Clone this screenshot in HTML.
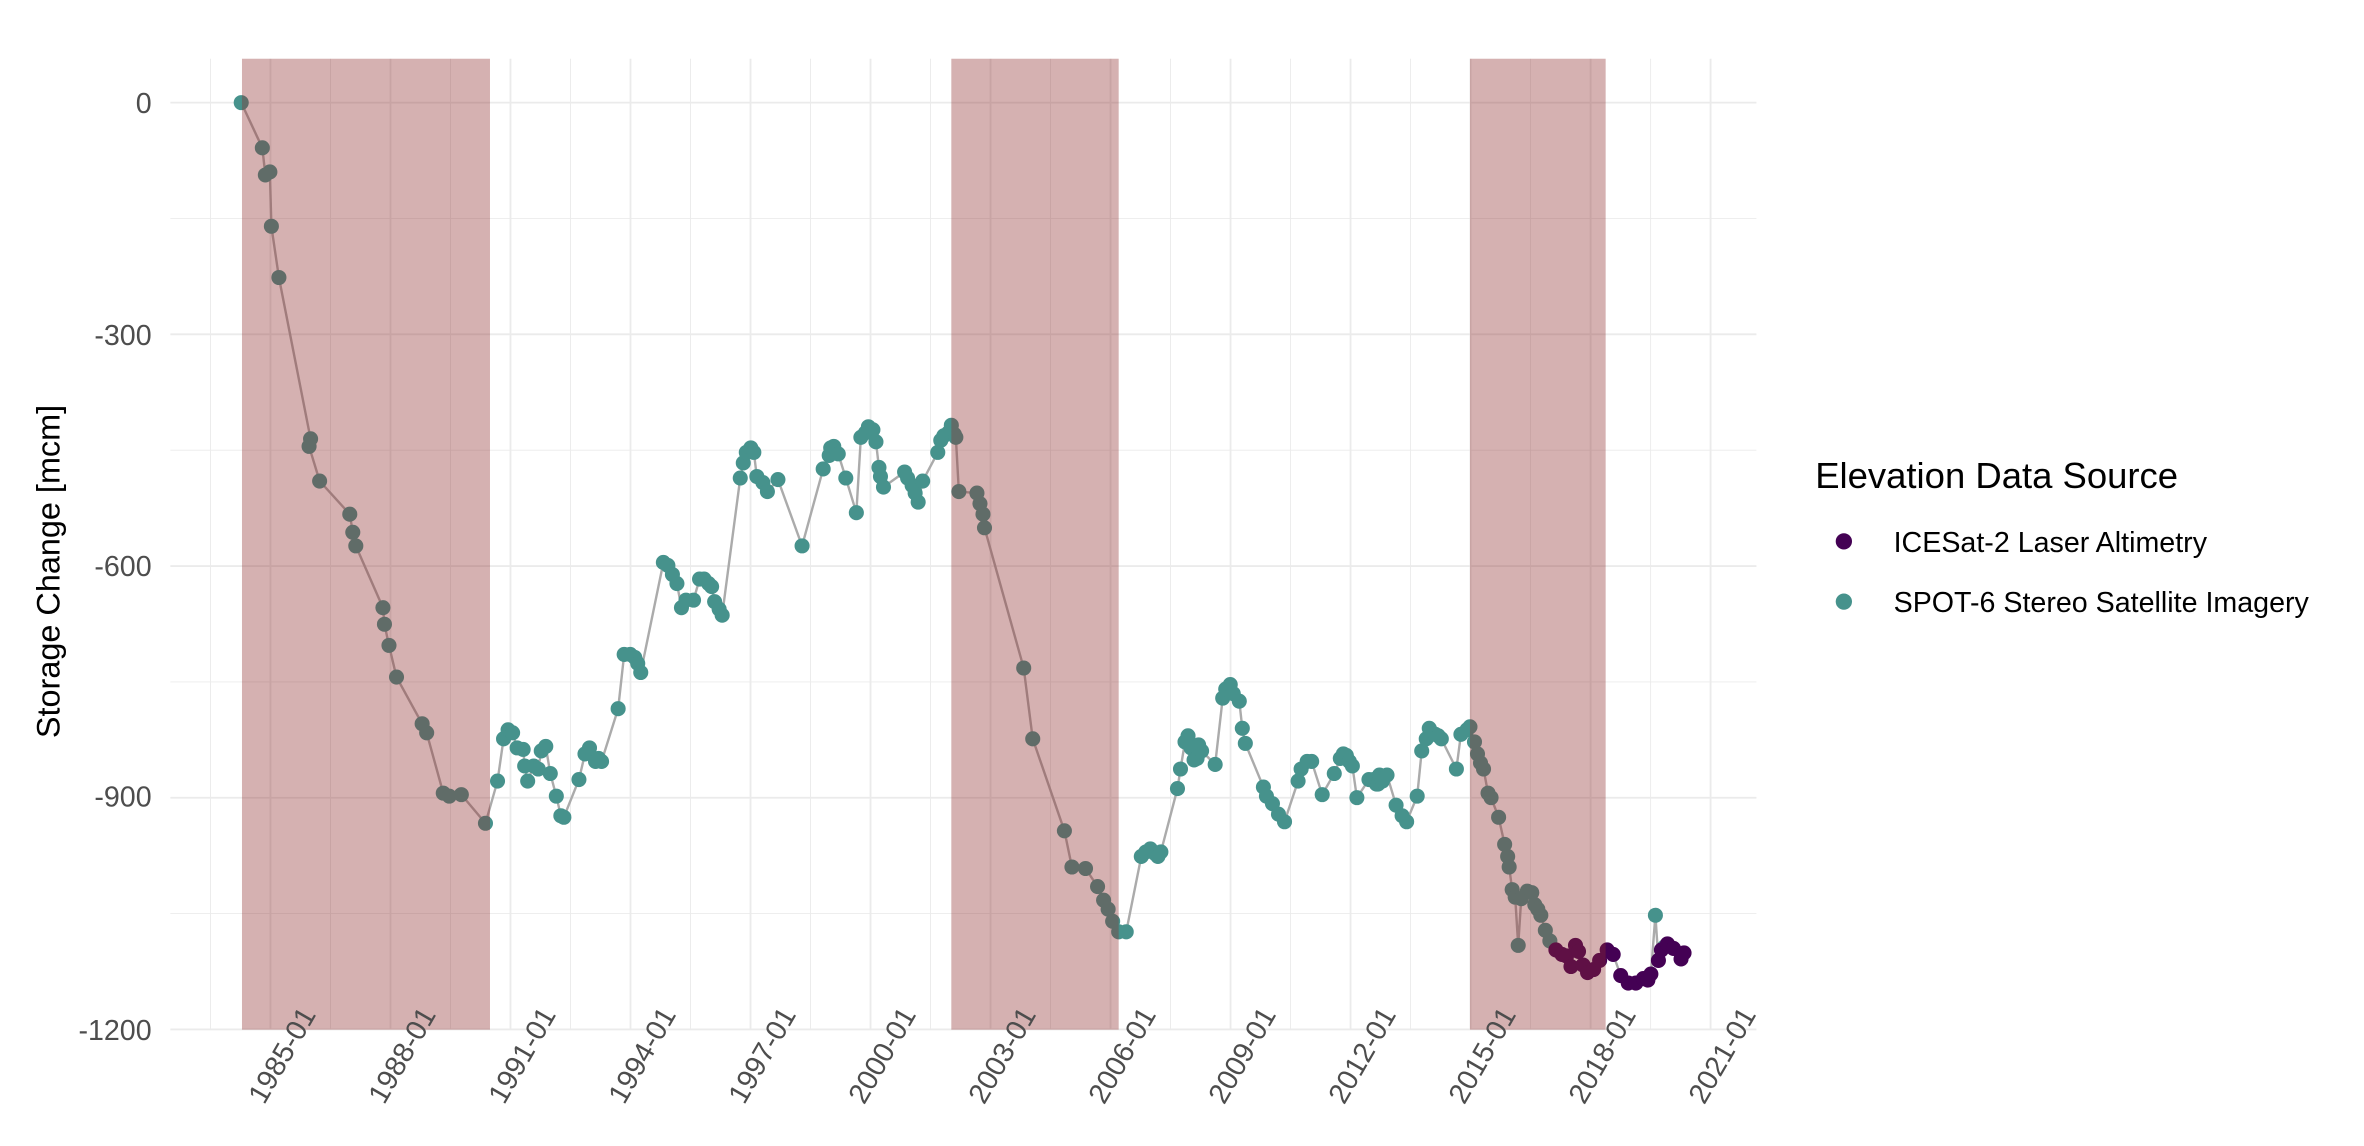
<!DOCTYPE html>
<html><head><meta charset="utf-8"><style>
html,body{margin:0;padding:0;background:#fff;}
svg{display:block;}
text{font-family:"Liberation Sans",Arial,sans-serif;}
</style></head><body>
<svg id="s" xmlns="http://www.w3.org/2000/svg" width="2364" height="1146" viewBox="0 0 1568 760">
<rect width="1568" height="760" fill="#fff"/>
<g id="grid"></g>
<polyline id="line" fill="none" stroke="#ababab" stroke-width="1.6"/>
<g id="pts"></g>
<g fill="#8c2b2b" fill-opacity="0.37">
<rect x="160.5" y="38.9" width="164.5" height="644"/>
<rect x="631" y="38.9" width="111" height="644"/>
<rect x="975" y="38.9" width="90" height="644"/>
</g>
<g id="labels" fill="#4d4d4d" font-size="19"></g>
<text transform="translate(39.5,489.5) rotate(-90)" text-anchor="start" font-size="21.5" fill="#000">Storage Change [mcm]</text>
<text x="1204" y="323.6" font-size="24.2" fill="#000">Elevation Data Source</text>
<circle cx="1223" cy="359" r="5.4" fill="#440154"/>
<text x="1256" y="366" font-size="19" fill="#000">ICESat-2 Laser Altimetry</text>
<circle cx="1223" cy="399" r="5.4" fill="#46928c"/>
<text x="1256" y="406" font-size="19" fill="#000">SPOT-6 Stereo Satellite Imagery</text>
</svg>
<script>
var NS="http://www.w3.org/2000/svg";
function el(t,a,p){var e=document.createElementNS(NS,t);for(var k in a)e.setAttribute(k,a[k]);document.getElementById(p).appendChild(e);return e;}
var L=113,R=1165,T=38.9,B=683;
for(var v=0;v>=-1200;v-=150){var y=68+(-v)*0.5123;el("line",{x1:L,x2:R,y1:y,y2:y,stroke:"#ebebeb","stroke-width":v%300==0?1.2:0.6},"grid");}
for(var k=0;k<30;k++){var x=139.6+39.8*k;if(x>R)break;el("line",{x1:x,x2:x,y1:T,y2:B,stroke:"#ebebeb","stroke-width":k%2==1?1.2:0.6},"grid");}
var yl=[["0",68],["-300",221.9],["-600",375],["-900",528],["-1200",682.8]];
yl.forEach(function(a){var t=el("text",{x:100.6,y:a[1]+7,"text-anchor":"end"},"labels");t.textContent=a[0];});
var yrs=[1985,1988,1991,1994,1997,2000,2003,2006,2009,2012,2015,2018,2021];
yrs.forEach(function(yr,i){var x=179.4+79.6*i+13.2,y=703;var t=el("text",{x:x,y:y,"text-anchor":"middle",transform:"rotate(-60,"+x+","+y+")"},"labels");t.textContent=yr+"-01";});
var P=[[160,68],[174,98],[176,116],[179,114],[180,150],[185,184],[206,291],[205,296],[212,319],[232,341],[234,353],[236,362],[254,403],[255,414],[258,428],[263,449],[280,480],[283,486],[294,526],[298,528],[306,527],[322,546],[330,518],[334,490],[337,484],[340,486],[343,496],[347,497],[348,508],[350,518],[354,508],[357,510],[359,498],[362,495],[365,513],[369,528],[372,541],[374,542],[384,517],[388,500],[391,496],[395,505],[397,503],[399,505],[410,470],[414,434],[418,434],[421,436],[423,440],[425,446],[440,373],[443,375],[446,381],[449,387],[452,403],[455,398],[460,398],[464,384],[467,384],[470,387],[472,389],[474,399],[477,404],[479,408],[491,317],[493,307],[495,300],[498,297],[500,300],[502,316],[506,320],[509,326],[516,318],[532,362],[546,311],[550,302],[551,297],[553,296],[556,301],[561,317],[568,340],[571,290],[574,287],[576,283],[579,285],[581,293],[583,310],[584,316],[586,323],[600,313],[602,317],[605,322],[607,327],[609,333],[612,319],[622,300],[624,292],[626,289],[629,287],[631,282],[633,288],[634,290],[636,326],[648,327],[650,334],[652,341],[653,350],[679,443],[685,490],[706,551],[711,575],[720,576],[728,588],[732,597],[735,603],[738,611],[742,618],[747,618],[757,568],[760,565],[763,563],[766,566],[768,568],[770,565],[781,523],[783,510],[786,492],[788,488],[790,496],[792,504],[794,503],[795,494],[797,498],[806,507],[811,463],[813,457],[816,454],[818,460],[822,465],[824,483],[826,493],[838,522],[840,528],[844,533],[848,540],[852,545],[861,518],[863,510],[867,505],[870,505],[877,527],[885,513],[889,503],[891,500],[893,501],[895,505],[897,508],[900,529],[908,517],[911,517],[913,520],[914,520],[915,514],[917,518],[920,514],[926,534],[930,541],[933,545],[940,528],[943,498],[946,490],[948,483],[950,486],[952,487],[954,488],[956,490],[966,510],[969,487],[973,484],[975,482],[978,492],[980,500],[982,506],[984,510],[987,526],[989,529],[994,542],[998,560],[1000,568],[1001,575],[1003,590],[1005,595],[1007,627],[1009,596],[1013,591],[1016,592],[1018,600],[1020,603],[1022,607],[1025,617],[1028,624]];
var Q=[[1032,630],[1036,633],[1039,634],[1042,641],[1045,627],[1047,631],[1050,640],[1053,645],[1057,643],[1061,637],[1066,630],[1070,633],[1075,647],[1080,652],[1085,652],[1090,649],[1093,650],[1095,646],[1100,637],[1102,630],[1106,626],[1110,629],[1115,636],[1117,632]];
var all=P.concat(Q.slice(0,18)).concat([[1098,607]]).concat(Q.slice(18));
document.getElementById("line").setAttribute("points",all.map(function(p){return p.join(",");}).join(" "));
P.forEach(function(p){el("circle",{cx:p[0],cy:p[1],r:5,fill:"#46928c"},"pts");});
el("circle",{cx:1098,cy:607,r:5,fill:"#46928c"},"pts");
el("circle",{cx:1104,cy:628,r:5,fill:"#46928c"},"pts");
Q.forEach(function(p){el("circle",{cx:p[0],cy:p[1],r:5,fill:"#440154"},"pts");});
</script>
</body></html>
